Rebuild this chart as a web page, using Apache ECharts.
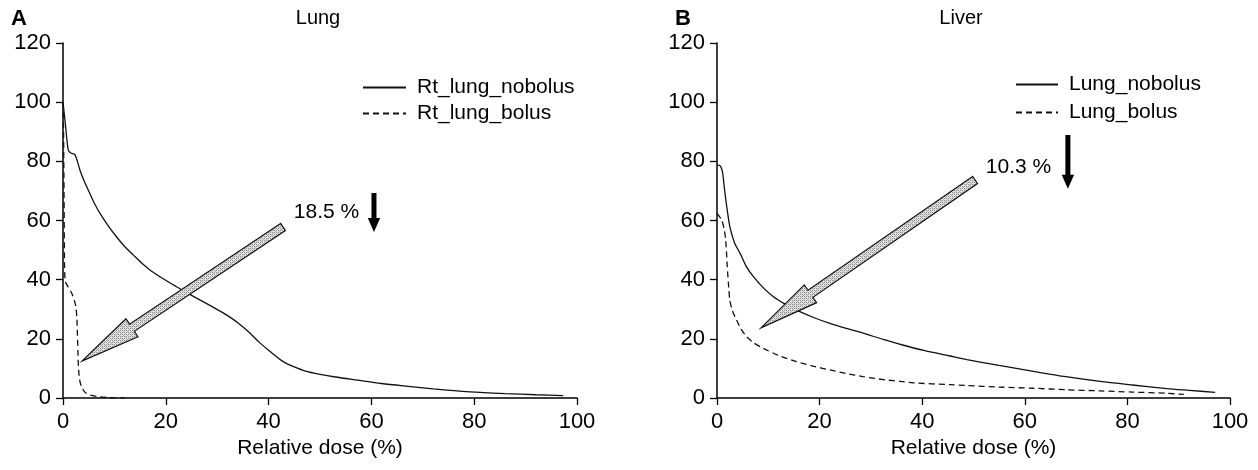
<!DOCTYPE html>
<html>
<head>
<meta charset="utf-8">
<script src="https://cdn.jsdelivr.net/npm/echarts@6/dist/echarts.min.js"></script>
<style>
html,body{margin:0;padding:0;background:#fff;}
#main{width:1258px;height:470px;}
</style>
</head>
<body>
<div id="main"></div>
<script>
// ---- Data (dose %, volume %) ----
const xTicks = [0, 20, 40, 60, 80, 100];
const yTicks = [0, 20, 40, 60, 80, 100, 120];
const panelTitles = ['Lung', 'Liver'];
const panelLetters = ['A', 'B'];
const legendA = ['Rt_lung_nobolus', 'Rt_lung_bolus'];
const legendB = ['Lung_nobolus', 'Lung_bolus'];

const rtLungNobolus = [[0,100],[0.5,92],[1,84],[1.5,82.8],[2.3,82.3],[2.8,80],[3.3,77],[4.2,73],[5.2,69.2],[6.2,65.5],[7.2,62.4],[8.8,58.2],[10.4,54.5],[12,51.2],[13.7,48.3],[15.3,45.6],[16.9,43.3],[19.5,40.3],[22.1,37.6],[24.4,35.3],[26.7,33.1],[29.2,30.7],[31.8,28.1],[34.2,25.2],[36.4,21.9],[38.2,18.8],[40.3,15.7],[42.9,12.2],[45,10.5],[47,9.2],[50,8.0],[53,7.1],[58,5.9],[62,4.9],[66.2,4.1],[72,3.1],[79.2,2.1],[86,1.5],[92,1.1],[97.3,0.8]];
const rtLungBolus = [[0,100],[0.1,92],[0.2,70],[0.3,45],[0.45,39.5],[1,37.5],[1.7,35.4],[2.2,33],[2.5,30.9],[2.7,27],[2.8,21.9],[2.9,16],[3.0,10.6],[3.2,6.5],[3.6,3.8],[4.3,1.9],[5.25,1.0],[7.2,0.4],[9,0.1],[12,0]];
const lungNobolus = [[0,78.8],[0.6,78.5],[1.0,77],[1.2,74.8],[1.5,70],[1.9,64.7],[2.5,57.9],[3.4,52.5],[4.5,48.9],[5.7,44.5],[7.1,41],[9,37.3],[11,34.2],[13.2,31.8],[15.5,29.7],[18.7,27.3],[22,25.2],[25.2,23.5],[28.5,21.9],[32.4,19.8],[36,18],[40.5,16],[45.4,14.2],[48.7,13],[55,11],[61.7,9.0],[68,7.2],[74.7,5.6],[81,4.4],[87.7,3.2],[92,2.6],[97.1,1.9]];
const lungBolus = [[0,62.4],[0.9,60.2],[1.4,57],[1.7,53.4],[2.0,44.4],[2.3,37],[2.5,33.1],[3.0,29.5],[3.8,26.4],[4.7,23.3],[5.8,20.7],[7.2,18.6],[9,16.8],[12,14.4],[15.5,12.3],[18.7,10.8],[22,9.5],[25.2,8.3],[28.5,7.2],[33,6.1],[35.7,5.6],[38.3,5.1],[45.4,4.5],[48.7,4.2],[55,3.7],[61.6,3.3],[68,2.8],[74.7,2.4],[81,2.0],[87.7,1.6],[91,1.2]];

// annotations in data coordinates
const bigArrowA = [[42.8, 57.8, 3.7, 12.5]];   // tail x,y -> tip x,y
const bigArrowB = [[50.3, 73.7, 8.6, 23.7]];
const downArrowA = [[60.5, 69.3, 56.1]];       // x, yTop, yBottom
const downArrowB = [[68.4, 88.9, 70.7]];
const pctLabelA = [[44.9, 62.9, '18.5 %']];
const pctLabelB = [[52.4, 78.1, '10.3 %']];

// ---- pattern for the shaded arrows ----
const pat = document.createElement('canvas');
pat.width = 4; pat.height = 4;
(function(){
  const c = pat.getContext('2d');
  c.fillStyle = '#e2e2e2'; c.fillRect(0,0,4,4);
  c.fillStyle = '#8a8a8a';
  c.fillRect(0,0,1,1); c.fillRect(2,2,1,1); c.fillRect(2,0,1,1); c.fillRect(0,2,1,1);
  c.fillStyle = '#b4b4b4';
  c.fillRect(1,1,1,1); c.fillRect(3,3,1,1);
})();

const FONT = '"Liberation Sans", Arial, Helvetica, sans-serif';
const chart = echarts.init(document.getElementById('main'), null, {renderer: 'canvas'});

function bigArrowRender(params, api) {
  const t = api.coord([api.value(0), api.value(1)]);
  const h = api.coord([api.value(2), api.value(3)]);
  const dx = h[0] - t[0], dy = h[1] - t[1];
  const L = Math.sqrt(dx*dx + dy*dy);
  const ux = dx / L, uy = dy / L, px = -uy, py = ux;
  const sw = 4.3, hw = 10.8, hl = 60;
  const bx = h[0] - ux*hl, by = h[1] - uy*hl;
  const pts = [
    [t[0] + px*sw, t[1] + py*sw],
    [bx + px*sw, by + py*sw],
    [bx + px*hw, by + py*hw],
    [h[0], h[1]],
    [bx - px*hw, by - py*hw],
    [bx - px*sw, by - py*sw],
    [t[0] - px*sw, t[1] - py*sw]
  ];
  return {type: 'polygon', shape: {points: pts},
    style: {fill: {image: pat, repeat: 'repeat'}, stroke: '#111', lineWidth: 1.2}};
}
function downArrowRender(params, api) {
  const a = api.coord([api.value(0), api.value(1)]);
  const b = api.coord([api.value(0), api.value(2)]);
  const sw = 2.5, hw = 6.2, hl = 14;
  const pts = [[a[0]-sw, a[1]], [a[0]+sw, a[1]], [a[0]+sw, b[1]-hl], [a[0]+hw, b[1]-hl],
               [a[0], b[1]], [a[0]-hw, b[1]-hl], [a[0]-sw, b[1]-hl]];
  return {type: 'polygon', shape: {points: pts}, style: {fill: '#000'}};
}
function textRender(params, api) {
  const p = api.coord([api.value(0), api.value(1)]);
  return {type: 'text', x: p[0], y: p[1],
    style: {text: api.value(2), fill: '#000', fontSize: 21, fontFamily: FONT, align: 'left', verticalAlign: 'middle'}};
}

function xAxisCfg(gi) {
  return {
    type: 'value', gridIndex: gi, min: xTicks[0], max: xTicks[xTicks.length-1], interval: 20,
    name: 'Relative dose (%)', nameLocation: 'middle', nameGap: 31,
    nameTextStyle: {color: '#000', fontSize: 21, fontFamily: FONT},
    axisLine: {show: true, onZero: false, lineStyle: {color: '#000', width: 1.5}},
    axisTick: {show: true, length: 7, lineStyle: {color: '#000', width: 1.3}},
    axisLabel: {color: '#000', fontSize: 22, fontFamily: FONT, margin: 13},
    splitLine: {show: false}
  };
}
function yAxisCfg(gi) {
  return {
    type: 'value', gridIndex: gi, min: yTicks[0], max: yTicks[yTicks.length-1], interval: 20,
    axisLine: {show: true, onZero: false, lineStyle: {color: '#000', width: 1.5}},
    axisTick: {show: true, length: 7, lineStyle: {color: '#000', width: 1.3}},
    axisLabel: {color: '#000', fontSize: 22, fontFamily: FONT, margin: 12},
    splitLine: {show: false}
  };
}
function lineSeries(name, data, gi, dashed) {
  return {
    name: name, type: 'line', data: data, xAxisIndex: gi, yAxisIndex: gi,
    showSymbol: false, symbol: 'none', smooth: 0.25, animation: false,
    lineStyle: {color: '#111', width: 1.3, type: dashed ? [6, 4] : 'solid'},
    itemStyle: {color: '#111'}
  };
}
function customSeries(data, gi, fn) {
  return {type: 'custom', coordinateSystem: 'cartesian2d', xAxisIndex: gi, yAxisIndex: gi,
    data: data, renderItem: fn, clip: false, silent: true, animation: false, z: 5};
}
function legendCfg(names, left, top, gap, wid) {
  return {
    data: names, orient: 'vertical', left: left, top: top, padding: 0,
    itemWidth: wid, itemHeight: 14, itemGap: gap, selectedMode: false,
    itemStyle: {opacity: 0},
    textStyle: {color: '#000', fontSize: 21, fontFamily: FONT, padding: [0, 0, 0, 6]}
  };
}

const option = {
  backgroundColor: '#fff',
  animation: false,
  grid: [
    {left: 63, top: 43, width: 514, height: 355},
    {left: 717, top: 43, width: 513, height: 355}
  ],
  xAxis: [xAxisCfg(0), xAxisCfg(1)],
  yAxis: [yAxisCfg(0), yAxisCfg(1)],
  legend: [
    legendCfg(legendA, 362, 77, 5, 43),
    legendCfg(legendB, 1015, 74, 7, 42)
  ],
  graphic: [
    {type: 'text', left: 11, top: 8, style: {text: panelLetters[0], fontSize: 22, fontWeight: 'bold', fontFamily: FONT, fill: '#000'}},
    {type: 'text', left: 675, top: 8, style: {text: panelLetters[1], fontSize: 22, fontWeight: 'bold', fontFamily: FONT, fill: '#000'}},
    {type: 'text', x: 318, y: 18, style: {text: panelTitles[0], fontSize: 20, fontFamily: FONT, fill: '#000', align: 'center', verticalAlign: 'middle'}},
    {type: 'text', x: 961, y: 18, style: {text: panelTitles[1], fontSize: 20, fontFamily: FONT, fill: '#000', align: 'center', verticalAlign: 'middle'}}
  ],
  series: [
    lineSeries(legendA[0], rtLungNobolus, 0, false),
    lineSeries(legendA[1], rtLungBolus, 0, true),
    lineSeries(legendB[0], lungNobolus, 1, false),
    lineSeries(legendB[1], lungBolus, 1, true),
    customSeries(bigArrowA, 0, bigArrowRender),
    customSeries(bigArrowB, 1, bigArrowRender),
    customSeries(downArrowA, 0, downArrowRender),
    customSeries(downArrowB, 1, downArrowRender),
    customSeries(pctLabelA, 0, textRender),
    customSeries(pctLabelB, 1, textRender)
  ]
};
chart.setOption(option);
</script>
</body>
</html>
